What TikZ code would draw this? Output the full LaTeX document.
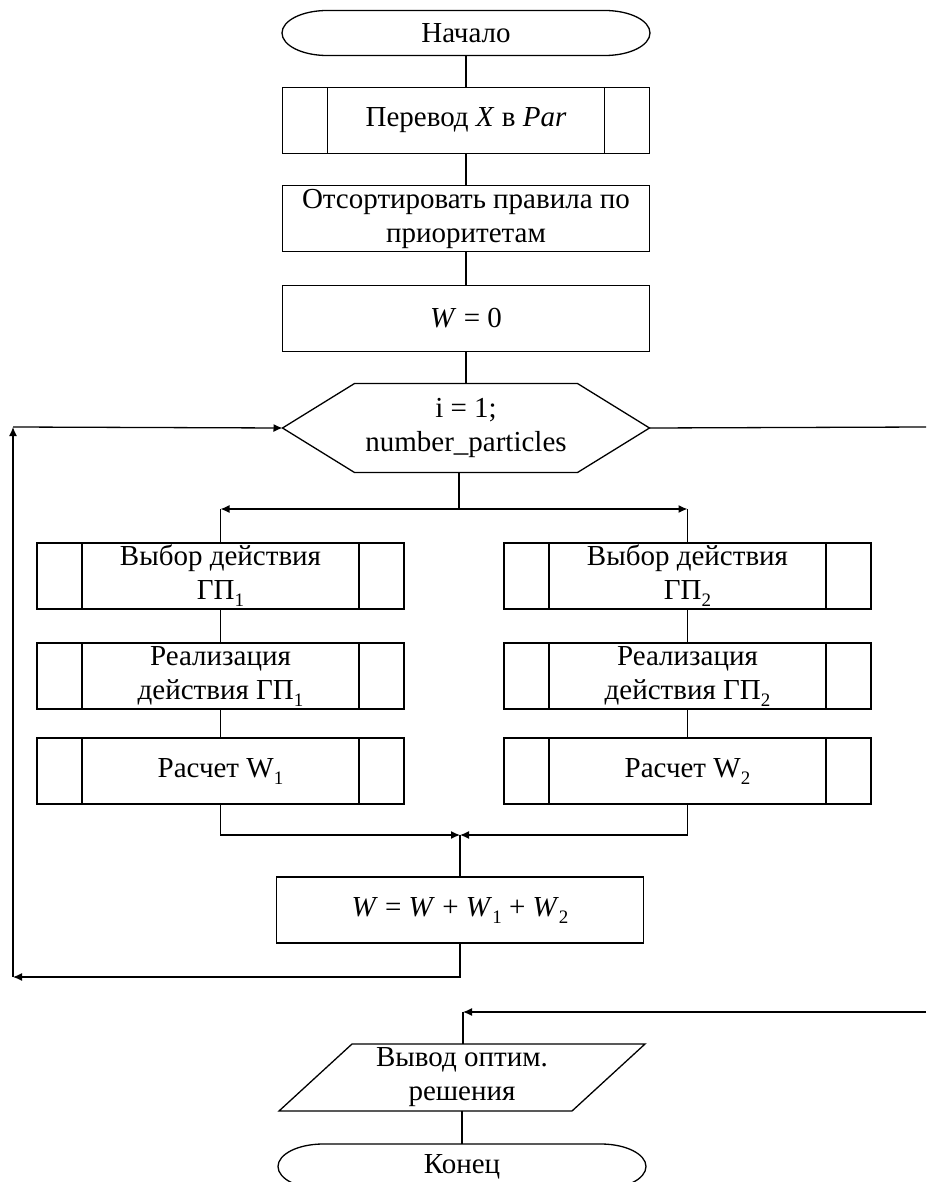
\documentclass[tikz,border=0pt]{standalone}
\usepackage{fontspec}
\setmainfont{Liberation Serif}
\usetikzlibrary{positioning,arrows.meta}
\newcommand\idx[1]{\raisebox{-7pt}{\fontsize{19}{19}\selectfont #1}}

\begin{document}
\begin{tikzpicture}[x=1pt,y=-1pt,line width=1.3pt,>={Latex[length=9pt,width=8pt]},
    font=\fontsize{29}{34}\selectfont,
    every node/.style={outer sep=0pt,inner sep=1pt,align=center},
    term/.style={minimum width=368pt,minimum height=45pt},
    proc/.style={draw,minimum width=367pt,minimum height=66pt},
    sub/.style={proc,path picture={
        \draw ([xshift=45pt]path picture bounding box.north west) -- ([xshift=45pt]path picture bounding box.south west)
              ([xshift=-45pt]path picture bounding box.north east) -- ([xshift=-45pt]path picture bounding box.south east);}},
    hexa/.style={minimum width=367pt,minimum height=89pt},
    io/.style={minimum width=366pt,minimum height=67pt}]
  \useasboundingbox (0,0) rectangle (926,1182);

  \node[term] (start) at (466,33) {Начало};
  \node[sub] (trans) [below=32pt of start] {Перевод \textit{X} в \textit{Par}};
  \node[proc] (sort) [below=32pt of trans] {Отсортировать правила по\\приоритетам};
  \node[proc] (winit) [below=34pt of sort] {\textit{W} = 0};
  \node[hexa] (loop) [below=32pt of winit] {i = 1;\\number\_particles};

  \node[sub] (pick1) at (220.5,576) {Выбор действия\\ГП\idx{1}};
  \node[sub] (real1) [below=34pt of pick1] {Реализация\\действия ГП\idx{1}};
  \node[sub] (calc1) [below=29pt of real1] {Расчет W\idx{1}};
  \node[sub] (pick2) at (687.5,576) {Выбор действия\\ГП\idx{2}};
  \node[sub] (real2) [below=34pt of pick2] {Реализация\\действия ГП\idx{2}};
  \node[sub] (calc2) [below=29pt of real2] {Расчет W\idx{2}};

  \node[proc] (sum) at (460,910) {\textit{W} = \textit{W} + \textit{W}\idx{1} + \textit{W}\idx{2}};
  \node[io] (out) at (462,1077.5) {Вывод оптим.\\решения};
  \node[term] (stop) [below=33pt of out] {Конец};

  \coordinate (fork) at (459,509);
  \coordinate (join) at (460,835);
  \coordinate (back) at (13,977);
  \coordinate (up) at (13,427);
  \coordinate (exit1) at (926,427);
  \coordinate (exit2) at (926,1012);
  \coordinate (in) at (463,1012);

  \foreach \t in {start,stop}
    \draw ([xshift=45pt]\t.north west) -- ([xshift=-45pt]\t.north east)
      arc[start angle=90,end angle=-90,x radius=45pt,y radius=22.5pt]
      -- ([xshift=45pt]\t.south west)
      arc[start angle=270,end angle=90,x radius=45pt,y radius=22.5pt] -- cycle;
  \draw ([xshift=72pt]loop.north west) -- ([xshift=-72pt]loop.north east) -- (loop.east)
    -- ([xshift=-72pt]loop.south east) -- ([xshift=72pt]loop.south west) -- (loop.west) -- cycle;
  \draw (out.south west) -- ([xshift=-73pt]out.south east) -- (out.north east)
    -- ([xshift=73pt]out.north west) -- cycle;

  \draw (start) -- (trans);
  \draw (trans) -- (sort);
  \draw (sort) -- (winit);
  \draw (winit) -- (loop);
  \draw (fork |- loop.south) -- (fork);
  \draw[->] (fork) -- (fork -| pick1);
  \draw[->] (fork) -- (fork -| pick2);
  \draw (fork -| pick1) -- (pick1);
  \draw (fork -| pick2) -- (pick2);
  \draw (pick1) -- (real1);
  \draw (real1) -- (calc1);
  \draw (pick2) -- (real2);
  \draw (real2) -- (calc2);
  \draw[->] (calc1) |- (join);
  \draw[->] (calc2) |- (join);
  \draw (join) -- (sum);
  \draw[->] (sum) |- (back);
  \draw[->] (back) -- (up);
  \draw[->] (up) -- (loop.west);
  \draw (loop.east) -- (exit1);
  \draw[->] (exit2) -- (in);
  \draw (in) -- (in |- out.north);
  \draw (out) -- (stop);
\end{tikzpicture}
\end{document}
